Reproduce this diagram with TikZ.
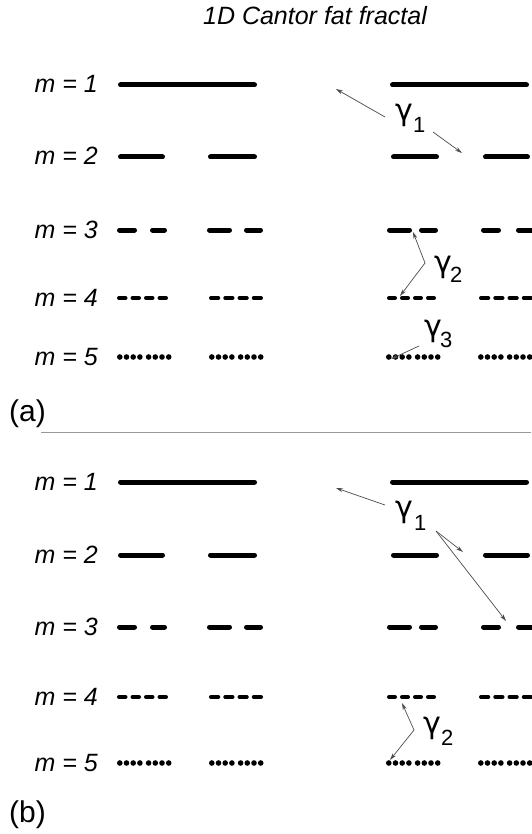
\documentclass[tikz,border=0pt]{standalone}
\usepackage{fontspec}
\setmainfont{Liberation Sans}
\newfontfamily\greekfont{DejaVu Sans}
\usetikzlibrary{arrows.meta}

\tikzset{
  thickseg/.style={line width=5pt, line cap=round, shorten <=2.5pt, shorten >=2.5pt},
  fineseg/.style={line width=4pt, line cap=round, shorten <=2pt, shorten >=2pt},
  dotmark/.style={fill=black, draw=none},
  pointer/.style={draw=black!70, line width=0.7pt, -{Stealth[length=7pt,width=4pt]}},
  rowlabel/.style={anchor=base east, inner sep=0pt, font=\fontsize{25}{25}\selectfont\itshape},
  titlelabel/.style={anchor=base, inner sep=0pt, font=\fontsize{25}{25}\selectfont\itshape},
  gammalabel/.style={anchor=base west, inner sep=0pt, font=\fontsize{30}{30}\greekfont},
  gammasub/.style={anchor=base west, inner sep=0pt, font=\fontsize{22}{22}\selectfont},
  panellabel/.style={anchor=base west, inner sep=0pt, font=\fontsize{30}{30}\selectfont},
}

% solid segments: style, y, list of start/end (outer extents)
\newcommand\segrow[3]{%
  \foreach \sa/\sb in {#3} {\draw[#1] (\sa,#2) -- (\sb,#2);}}

% four short dashes filling [start,end]
\newcommand\dashgroup[3]{%
  \pgfmathsetmacro\dashlen{(#3-#2-9)/4}%
  \foreach \di in {0,...,3} {%
    \draw[fineseg] ({#2+\di*(\dashlen+3)},#1) -- ({#2+\di*(\dashlen+3)+\dashlen},#1);}}

% eight dots in two groups of four, starting at x
\newcommand\dotgroup[2]{%
  \foreach \dx in {0,6.7,13.4,20.1,28.8,35.5,42.2,48.9} {%
    \fill[dotmark] ({#2+2.8+\dx},#1) circle (2.8pt);}}

% one panel of the construction, rows at the given heights
\newcommand\cantorpanel[5]{%
  \segrow{thickseg}{#1}{118/257, 390/529}
  \segrow{thickseg}{#2}{118/165, 208/257, 391/439, 483/530}
  \segrow{thickseg}{#3}{117/137, 150/167, 207/232, 244/263, 387/412, 419/438, 481/501, 516/536}
  \dashgroup{#4}{117}{168}\dashgroup{#4}{209}{263}
  \dashgroup{#4}{387}{436}\dashgroup{#4}{479}{533}
  \dotgroup{#5}{117}\dotgroup{#5}{209}
  \dotgroup{#5}{386}\dotgroup{#5}{478}
  \node[rowlabel] at (98,#1+8) {m = 1};
  \node[rowlabel] at (98,#2+8) {m = 2};
  \node[rowlabel] at (98,#3+8) {m = 3};
  \node[rowlabel] at (98,#4+8) {m = 4};
  \node[rowlabel] at (98,#5+8) {m = 5};
}

\begin{document}
\begin{tikzpicture}[x=1pt,y=-1pt]
\useasboundingbox (0,0) rectangle (531,834);
\fill[white] (0,0) rectangle (531,834);

\node[titlelabel] (title) at (315,25) {1D Cantor fat fractal};

% panel (a)
\cantorpanel{85}{157}{230}{298}{357}
\node[panellabel] (pa) at (9,421) {(a)};

\node[gammalabel] (ga1) at (395,121) {γ};
\node[gammasub] (ga1s) at (413,133) {1};
\node[gammalabel] (ga2) at (434,272) {γ};
\node[gammasub] (ga2s) at (450,282) {2};
\node[gammalabel] (ga3) at (424,336) {γ};
\node[gammasub] (ga3s) at (440,347) {3};

\coordinate (a1t) at (385,117);  \coordinate (a1h) at (336,89);
\coordinate (a2t) at (433,132);  \coordinate (a2h) at (462,153);
\coordinate (a3v) at (425,263);  \coordinate (a3u) at (413,232);
\coordinate (a3d) at (400,296);
\coordinate (a4t) at (419,346);  \coordinate (a4h) at (391,359);
\draw[pointer] (a1t) -- (a1h);
\draw[pointer] (a2t) -- (a2h);
\draw[pointer] (a3v) -- (a3u);
\draw[pointer] (a3v) -- (a3d);
\draw[pointer] (a4t) -- (a4h);

% separator
\draw[black!40, line width=1pt] (41,432) -- (531,432);

% panel (b)
\cantorpanel{482}{555}{627}{697}{763}
\node[panellabel] (pb) at (9,822) {(b)};

\node[gammalabel] (gb1) at (395,517) {γ};
\node[gammasub] (gb1s) at (414,530) {1};
\node[gammalabel] (gb2) at (423,733) {γ};
\node[gammasub] (gb2s) at (441,745) {2};

\coordinate (b1t) at (385,505);  \coordinate (b1h) at (336,488);
\coordinate (b2t) at (436,531);  \coordinate (b2h) at (463,552);
\coordinate (b3h) at (506,621);
\coordinate (b4v) at (414,730);  \coordinate (b4u) at (402,703);
\coordinate (b4d) at (390,760);
\draw[pointer] (b1t) -- (b1h);
\draw[pointer] (b2t) -- (b2h);
\draw[pointer] (b2t) -- (b3h);
\draw[pointer] (b4v) -- (b4u);
\draw[pointer] (b4v) -- (b4d);
\end{tikzpicture}
\end{document}
